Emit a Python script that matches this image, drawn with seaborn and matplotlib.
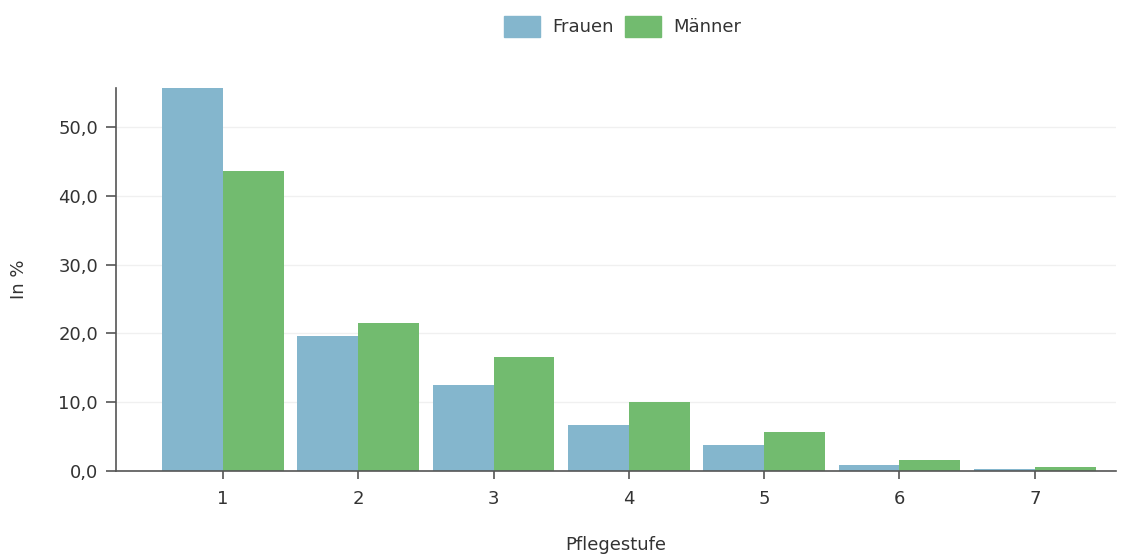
import matplotlib
matplotlib.use("Agg")
import matplotlib.pyplot as plt
import pandas as pd
import seaborn as sns
from matplotlib.ticker import FuncFormatter

# data
stufen = ["1", "2", "3", "4", "5", "6", "7"]
frauen = [55.7, 19.6, 12.5, 6.7, 3.8, 0.9, 0.3]
maenner = [43.6, 21.5, 16.6, 10.0, 5.7, 1.6, 0.6]

df = pd.DataFrame({
    "Pflegestufe": stufen * 2,
    "Wert": frauen + maenner,
    "Geschlecht": ["Frauen"] * len(stufen) + ["Männer"] * len(stufen),
})

sns.set_theme(style="white")
plt.rcParams["font.family"] = ["DejaVu Sans"]

fig = plt.figure(figsize=(11.32, 5.58), dpi=100)
ax = fig.add_axes([116 / 1132, 87 / 558, 1000 / 1132, 383 / 558])

palette = {"Frauen": "#84b6cd", "Männer": "#72bb6f"}
sns.barplot(data=df, x="Pflegestufe", y="Wert", hue="Geschlecht",
            palette=palette, width=0.9, linewidth=0, saturation=1,
            ax=ax, legend=False)

ax.set_xlim(-0.79, 6.6)
ax.set_ylim(0, 55.7)
ax.set_yticks([0, 10, 20, 30, 40, 50])
ax.yaxis.set_major_formatter(FuncFormatter(lambda v, p: f"{v:.1f}".replace(".", ",")))
ax.grid(axis="y", color="#f0f0f0", linewidth=1)
ax.set_axisbelow(True)

for s in ["top", "right"]:
    ax.spines[s].set_visible(False)
for s in ["left", "bottom"]:
    ax.spines[s].set_color("#555555")
    ax.spines[s].set_linewidth(1.2)

ax.tick_params(axis="y", length=7, width=1.2, color="#555555", labelsize=13,
               labelcolor="#333333", left=True, pad=6)
ax.tick_params(axis="x", length=6, width=1.2, color="#555555", labelsize=13,
               labelcolor="#333333", bottom=True, pad=8)

ax.set_xlabel("Pflegestufe", fontsize=13, color="#333333", labelpad=20)
ax.set_ylabel("In %", fontsize=13, color="#333333", labelpad=22)

handles = [plt.Rectangle((0, 0), 1, 1, color=palette[k]) for k in ["Frauen", "Männer"]]
fig.legend(handles, ["Frauen", "Männer"], loc="center", bbox_to_anchor=(0.55, 0.953),
           ncol=2, frameon=False, fontsize=13, handlelength=2.0, handleheight=1.4,
           columnspacing=0.6, handletextpad=0.7, labelcolor="#333333")

fig.savefig("out.png", dpi=100)
